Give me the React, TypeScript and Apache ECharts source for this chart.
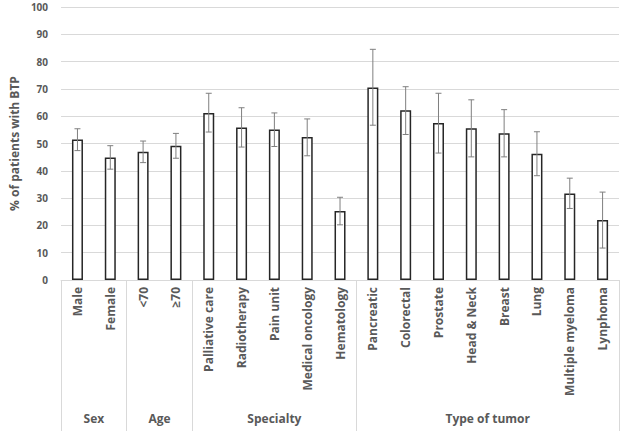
import React, { useEffect, useRef } from "react";
import * as echarts from "echarts";

const categories = ["Male", "Female", "<70", "≥70", "Palliative care", "Radiotherapy", "Pain unit", "Medical oncology", "Hematology", "Pancreatic", "Colorectal", "Prostate", "Head & Neck", "Breast", "Lung", "Multiple myeloma", "Lynphoma"];
const values = [51.5, 44.9, 47.0, 49.2, 61.2, 55.9, 55.1, 52.4, 25.3, 70.5, 62.2, 57.5, 55.6, 53.8, 46.2, 31.7, 22.0];
const errLow = [47.4, 40.6, 43.0, 44.6, 54.2, 48.7, 48.9, 45.5, 20.2, 56.7, 53.3, 46.5, 45.1, 45.1, 38.2, 26.2, 11.7];
const errHigh = [55.4, 49.2, 50.9, 53.7, 68.4, 63.1, 61.2, 59.0, 30.3, 84.5, 70.8, 68.4, 66.0, 62.4, 54.3, 37.3, 32.2];
const groupNames = ["Sex", "Age", "Specialty", "Type of tumor"];
const groupSizes = [2, 2, 5, 8];
const yTicks = [0, 10, 20, 30, 40, 50, 60, 70, 80, 90, 100];

const FONT = "Open Sans";
const GRAY = "#595959";

export default function App() {
  const ref = useRef<HTMLDivElement>(null);
  useEffect(() => {
    if (!ref.current) return;
    const chart = echarts.init(ref.current, null, { renderer: "svg" });
    const bounds: number[] = [0];
    groupSizes.forEach((s) => bounds.push(bounds[bounds.length - 1] + s));
    const centers: number[] = groupSizes.map((s, i) => bounds[i] + s / 2);
    const centerLabel: Record<string, string> = {};
    centers.forEach((c, i) => (centerLabel[String(c)] = groupNames[i]));

    chart.setOption({
      animation: false,
      backgroundColor: "#fff",
      grid: { left: 48, right: 3, top: 7, bottom: 151 },
      xAxis: [
        {
          type: "category",
          data: categories,
          position: "bottom",
          axisLine: { show: false },
          axisTick: { show: false },
          axisLabel: {
            interval: 0,
            rotate: 90,
            margin: 7,
            color: GRAY,
            fontFamily: FONT,
            fontSize: 12,
            fontWeight: "bold",
          },
        },
        {
          type: "value",
          min: 0,
          max: categories.length,
          position: "bottom",
          splitLine: { show: false },
          axisLine: { show: true, lineStyle: { color: "#d9d9d9", width: 1 } },
          axisTick: {
            show: true,
            customValues: bounds,
            length: 152,
            lineStyle: { color: "#d9d9d9", width: 1 },
          },
          axisLabel: {
            customValues: centers,
            margin: 132,
            color: GRAY,
            fontFamily: FONT,
            fontSize: 12,
            fontWeight: "bold",
            formatter: (v: number) => centerLabel[String(v)] ?? "",
          },
        },
      ],
      yAxis: {
        type: "value",
        min: yTicks[0],
        max: yTicks[yTicks.length - 1],
        interval: 10,
        name: "% of patients with BTP",
        nameLocation: "middle",
        nameGap: 36,
        nameTextStyle: { color: GRAY, fontFamily: FONT, fontSize: 12, fontWeight: "bold" },
        axisLine: { show: false },
        axisTick: { show: false },
        axisLabel: { color: GRAY, fontFamily: FONT, fontSize: 10, fontWeight: "bold", margin: 13 },
        splitLine: { lineStyle: { color: "#d9d9d9", width: 1 } },
      },
      series: [
        {
          type: "bar",
          xAxisIndex: 0,
          data: values,
          barWidth: 11,
          itemStyle: { color: "#ffffff", borderColor: "#262626", borderWidth: 1.5 },
        },
        {
          type: "custom",
          xAxisIndex: 0,
          data: categories.map((_, i) => [i, errLow[i], errHigh[i]]),
          renderItem: (params: any, api: any) => {
            const i = api.value(0);
            const lo = api.coord([i, api.value(1)]);
            const hi = api.coord([i, api.value(2)]);
            const c = 3;
            const style = { stroke: "#7f7f7f", lineWidth: 1 };
            return {
              type: "group",
              children: [
                { type: "line", shape: { x1: lo[0], y1: lo[1], x2: hi[0], y2: hi[1] }, style },
                { type: "line", shape: { x1: hi[0] - c, y1: hi[1], x2: hi[0] + c, y2: hi[1] }, style },
                { type: "line", shape: { x1: lo[0] - c, y1: lo[1], x2: lo[0] + c, y2: lo[1] }, style },
              ],
            };
          },
          z: 5,
        },
      ],
    });
    return () => chart.dispose();
  }, []);
  return <div ref={ref} style={{ width: 622, height: 431, position: "fixed", left: 0, top: 0 }} />;
}
